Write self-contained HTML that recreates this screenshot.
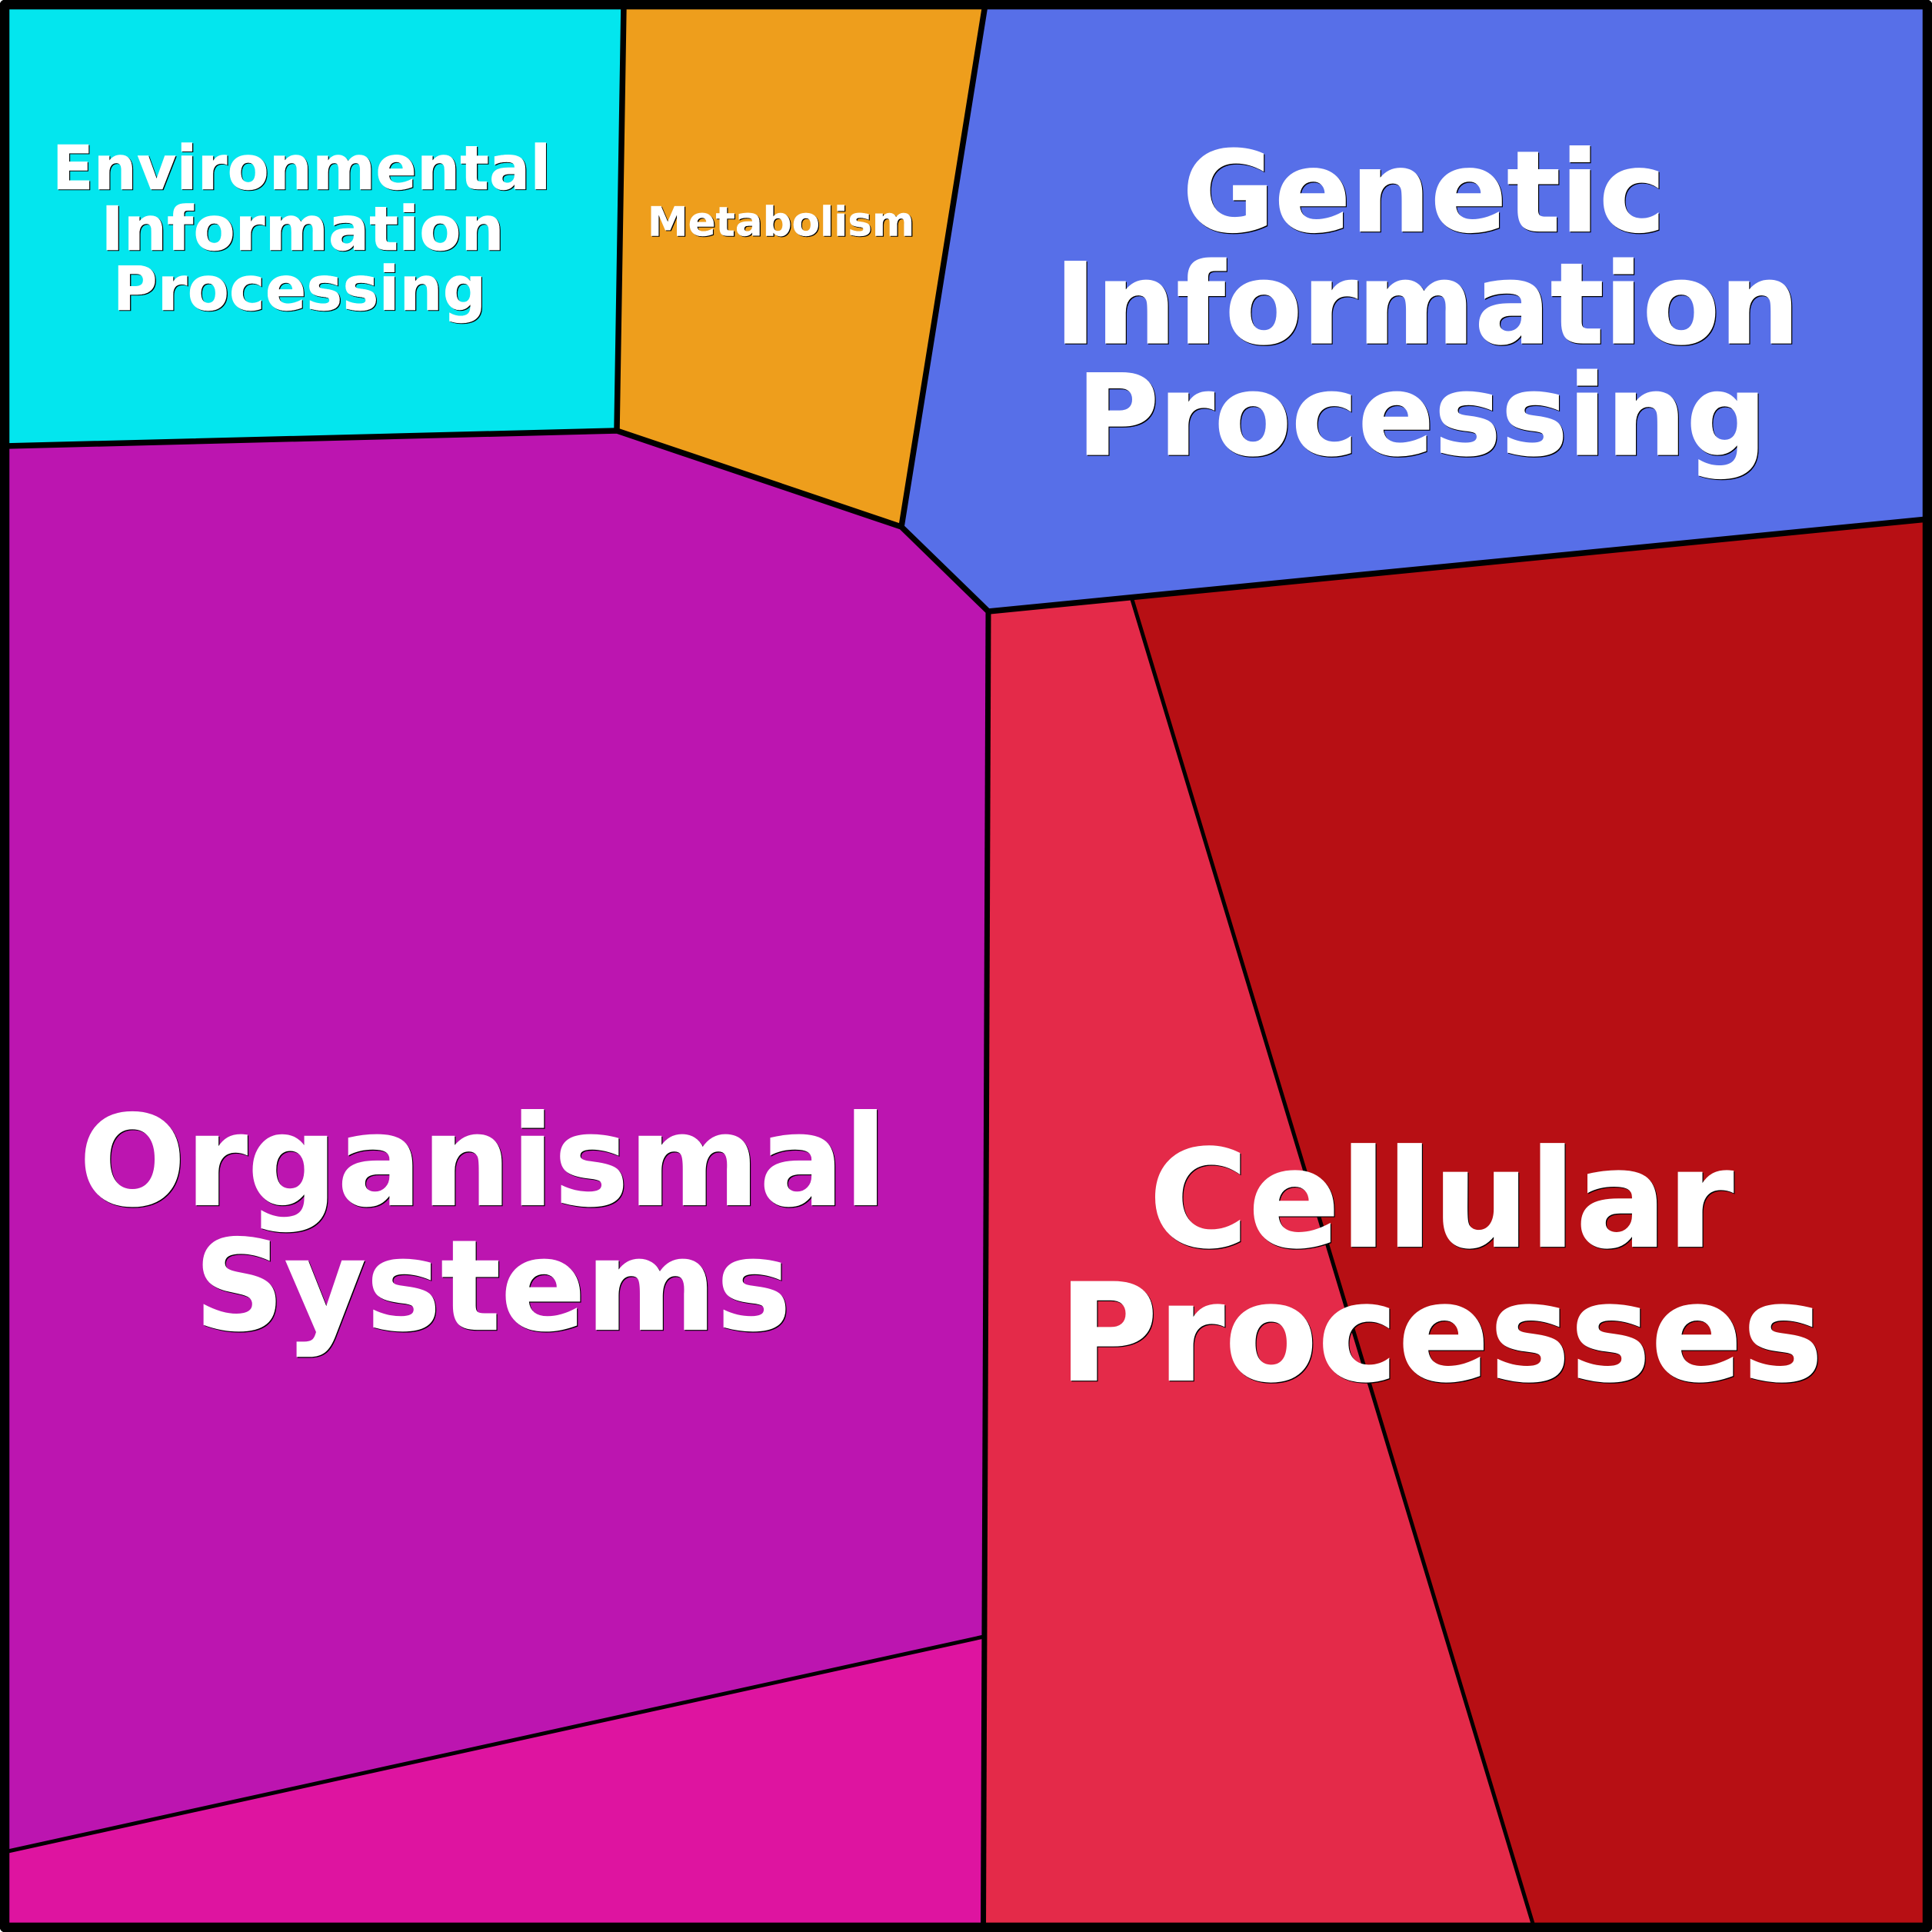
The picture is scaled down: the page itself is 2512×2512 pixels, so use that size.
<!DOCTYPE html>
<html><head><meta charset="utf-8"><style>html,body{margin:0;padding:0;background:#fff}svg{display:block}text{font-family:"DejaVu Sans",sans-serif;font-weight:700;text-anchor:middle}</style></head><body>
<svg width="2512" height="2512" viewBox="0 0 2512 2512" xmlns="http://www.w3.org/2000/svg">
<polygon points="6,6 811,6 802,560 6,580" fill="#03E6EE"/>
<polygon points="811,6 1281,6 1172,685 802,560" fill="#EE9E1C"/>
<polygon points="1281,6 2506,6 2506,675 1285,795 1172,685" fill="#576FE8"/>
<polygon points="6,580 802,560 1172,685 1285,795 1279,2128 6,2407" fill="#BC15B0"/>
<polygon points="6,2407 1279,2128 1278,2506 6,2506" fill="#DE14A0"/>
<polygon points="1285,795 1472,778 1994,2506 1278,2506" fill="#E42A49"/>
<polygon points="1472,778 2506,675 2506,2506 1994,2506" fill="#B70F14"/>
<g fill="none" stroke="#000" stroke-linejoin="round">
<path d="M6,580 L802,560 L1172,685 L1285,795 L2506,675" stroke-width="7.5"/>
<path d="M811,6 L802,560 M1281,6 L1172,685" stroke-width="7.5"/>
<path d="M1285,795 L1278.5,2506" stroke-width="7"/>
<path d="M1471.5,778 L1994.5,2506 M6,2408 L1279,2128" stroke-width="5"/>
<rect x="6" y="6" width="2500" height="2500" stroke-width="12.5"/>
</g>
<g fill="#000" stroke="#000" transform="translate(1.2,1.2)">
<g stroke-width="0.4"><text x="392" y="246" font-size="79">Environmental</text><text x="393.5" y="325" font-size="79">Information</text><text x="389.5" y="403" font-size="79">Processing</text>
<text x="1015.5" y="306.5" font-size="53">Metabolism</text></g>
<g stroke-width="1.2"><text x="1851.5" y="300.5" font-size="146">Genetic</text><text x="1855.5" y="446" font-size="146">Information</text><text x="1848.5" y="591" font-size="146">Processing</text>
<text x="628" y="1566.5" font-size="163">Organismal</text><text x="640.5" y="1728.5" font-size="163">Systems</text>
<text x="1874" y="1620.5" font-size="176">Cellular</text><text x="1873.5" y="1794.5" font-size="176">Processes</text></g>
</g>
<g fill="#fff" stroke="#fff">
<g stroke-width="0.4"><text x="392" y="246" font-size="79">Environmental</text><text x="393.5" y="325" font-size="79">Information</text><text x="389.5" y="403" font-size="79">Processing</text>
<text x="1015.5" y="306.5" font-size="53">Metabolism</text></g>
<g stroke-width="1.2"><text x="1851.5" y="300.5" font-size="146">Genetic</text><text x="1855.5" y="446" font-size="146">Information</text><text x="1848.5" y="591" font-size="146">Processing</text>
<text x="628" y="1566.5" font-size="163">Organismal</text><text x="640.5" y="1728.5" font-size="163">Systems</text>
<text x="1874" y="1620.5" font-size="176">Cellular</text><text x="1873.5" y="1794.5" font-size="176">Processes</text></g>
</g>
</svg>
</body></html>
